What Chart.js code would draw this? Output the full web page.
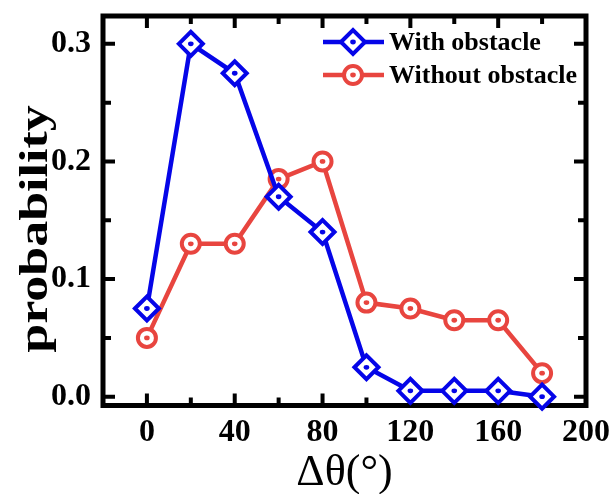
<!DOCTYPE html>
<html>
<head>
<meta charset="utf-8">
<script src="https://cdn.jsdelivr.net/npm/chart.js@4/dist/chart.umd.min.js"></script>
<style>
  html, body { margin: 0; padding: 0; background: #fff; }
  #wrap { width: 615px; height: 494px; }
</style>
</head>
<body>
<div id="wrap"><canvas id="chart" width="615" height="494"></canvas></div>
<script>
// data
const angles = [0, 20, 40, 60, 80, 100, 120, 140, 160, 180];
const withObstacle = [0.075, 0.3, 0.275, 0.17, 0.14, 0.025, 0.005, 0.005, 0.005, 0.0];
const withoutObstacle = [0.05, 0.13, 0.13, 0.185, 0.2, 0.08, 0.075, 0.065, 0.065, 0.02];
const seriesNames = ['With obstacle', 'Without obstacle'];
const xTicks = [0, 40, 80, 120, 160, 200];
const xMinorTicks = [20, 60, 100, 140, 180];
const yTicks = [0, 0.1, 0.2, 0.3];
const yMinorTicks = [0.05, 0.15, 0.25];
const xTitle = 'Δθ(°)';
const yTitle = 'probability';

const BLUE = '#0505e8';
const RED = '#e8453f';
const SERIF = "'Liberation Serif', 'Times New Roman', serif";

function drawMarker(ctx, style, color, x, y) {
    ctx.save();
    ctx.lineWidth = 4;
    ctx.strokeStyle = color;
    ctx.fillStyle = '#fff';
    ctx.beginPath();
    if (style === 'rectRot') {
        const r = 12;
        ctx.moveTo(x - r, y); ctx.lineTo(x, y - r); ctx.lineTo(x + r, y); ctx.lineTo(x, y + r);
        ctx.closePath();
    } else {
        ctx.arc(x, y, 9, 0, Math.PI * 2);
    }
    ctx.fill();
    ctx.stroke();
    ctx.fillStyle = color;
    ctx.beginPath();
    ctx.ellipse(x, y, 2.8, 2.4, 0, 0, Math.PI * 2);
    ctx.fill();
    ctx.restore();
}

// frame with inward ticks on all four sides
const framePlugin = {
    id: 'frame',
    beforeDatasetsDraw(chart) {
        const { ctx, chartArea: a, scales } = chart;
        ctx.save();
        ctx.strokeStyle = '#000';
        ctx.lineWidth = 5;
        ctx.strokeRect(a.left, a.top, a.right - a.left, a.bottom - a.top);
        ctx.lineWidth = 4;
        const tick = (vals, len) => {
            vals.forEach(v => {
                const px = scales.x.getPixelForValue(v);
                if (px < a.left + 3 || px > a.right - 3) return;
                ctx.beginPath();
                ctx.moveTo(px, a.bottom); ctx.lineTo(px, a.bottom - len);
                ctx.moveTo(px, a.top); ctx.lineTo(px, a.top + len);
                ctx.stroke();
            });
        };
        const ytick = (vals, len) => {
            vals.forEach(v => {
                const py = scales.y.getPixelForValue(v);
                ctx.beginPath();
                ctx.moveTo(a.left, py); ctx.lineTo(a.left + len, py);
                ctx.moveTo(a.right, py); ctx.lineTo(a.right - len, py);
                ctx.stroke();
            });
        };
        tick(xTicks, 12);
        tick(xMinorTicks, 8);
        ytick(yTicks, 12);
        ytick(yMinorTicks, 8);

        // y axis title (the reference lettering is drawn a bit stretched)
        ctx.fillStyle = '#000';
        ctx.font = 'bold 40px ' + SERIF;
        ctx.textAlign = 'center';
        ctx.textBaseline = 'middle';
        ctx.translate(37, 229);
        ctx.rotate(-Math.PI / 2);
        ctx.scale(1.3, 1);
        ctx.fillText(yTitle, 0, 0);
        ctx.restore();
    },
    afterDatasetsDraw(chart) {
        const { ctx } = chart;
        // centre dots of the markers
        chart.data.datasets.forEach((ds, i) => {
            chart.getDatasetMeta(i).data.forEach(pt => {
                ctx.save();
                ctx.fillStyle = ds.borderColor;
                ctx.beginPath();
                ctx.ellipse(pt.x, pt.y, 2.8, 2.4, 0, 0, Math.PI * 2);
                ctx.fill();
                ctx.restore();
            });
        });
        // legend: line + marker + label
        chart.data.datasets.forEach((ds, i) => {
            const y = 42 + i * 33;
            ctx.save();
            ctx.strokeStyle = ds.borderColor;
            ctx.lineWidth = 4.5;
            ctx.beginPath();
            ctx.moveTo(323, y); ctx.lineTo(384, y);
            ctx.stroke();
            ctx.restore();
            drawMarker(ctx, ds.pointStyle, ds.borderColor, 353, y);
            ctx.save();
            ctx.fillStyle = '#000';
            ctx.font = 'bold 26px ' + SERIF;
            ctx.textAlign = 'left';
            ctx.textBaseline = 'middle';
            ctx.fillText(ds.label, 389, y + 1);
            ctx.restore();
        });
    }
};

const ctx = document.getElementById('chart').getContext('2d');
new Chart(ctx, {
    type: 'line',
    data: {
        datasets: [
            {
                label: seriesNames[0],
                data: angles.map((a, i) => ({ x: a, y: withObstacle[i] })),
                borderColor: BLUE,
                backgroundColor: '#fff',
                borderWidth: 4.5,
                pointStyle: 'rectRot',
                pointRadius: 12,
                pointBorderWidth: 4,
                pointBackgroundColor: '#fff',
                clip: false
            },
            {
                label: seriesNames[1],
                data: angles.map((a, i) => ({ x: a, y: withoutObstacle[i] })),
                borderColor: RED,
                backgroundColor: '#fff',
                borderWidth: 4.5,
                pointStyle: 'circle',
                pointRadius: 9,
                pointBorderWidth: 4,
                pointBackgroundColor: '#fff',
                clip: false
            }
        ]
    },
    options: {
        responsive: false,
        animation: false,
        layout: { padding: { top: 15, right: 29, left: 0, bottom: 0 } },
        plugins: {
            legend: { display: false },
            tooltip: { enabled: false }
        },
        scales: {
            x: {
                type: 'linear',
                min: -20,
                max: 200,
                afterBuildTicks: s => { s.ticks = xTicks.map(v => ({ value: v })); },
                afterFit: s => { s.height = 88.5; s.paddingLeft = 0; s.paddingRight = 0; },
                grid: { display: false, drawTicks: false },
                border: { display: false },
                ticks: {
                    padding: 8,
                    color: '#000',
                    font: { family: SERIF, size: 32, weight: 'bold' },
                    maxRotation: 0
                },
                title: {
                    display: true,
                    text: xTitle,
                    color: '#000',
                    font: { family: SERIF, size: 44, lineHeight: 1 },
                    padding: { top: 0, bottom: -1 }
                }
            },
            y: {
                min: -0.0075,
                max: 0.3237,
                afterBuildTicks: s => { s.ticks = yTicks.map(v => ({ value: v })); },
                afterFit: s => { s.width = 103; s.paddingTop = 0; s.paddingBottom = 0; },
                grid: { display: false, drawTicks: false },
                border: { display: false },
                ticks: {
                    padding: 12,
                    color: '#000',
                    font: { family: SERIF, size: 32, weight: 'bold' },
                    callback: v => v.toFixed(1)
                }
            }
        }
    },
    plugins: [framePlugin]
});
</script>
</body>
</html>
